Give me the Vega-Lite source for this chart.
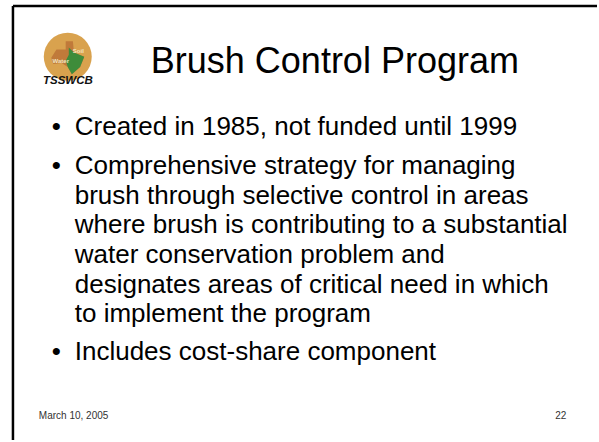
{
  "$schema": "https://vega.github.io/schema/vega-lite/v6.json",
  "width": 599,
  "height": 442,
  "autosize": {"type": "fit", "contains": "padding"},
  "padding": 0,
  "background": "white",
  "config": {"view": {"stroke": null}, "axis": {"disable": true}},
  "datasets": {
    "frame": [
      {"x": 0.217, "y": 0.102, "x2": 10.0, "y2": 0.102},
      {"x": 0.217, "y": 0.102, "x2": 0.217, "y2": 7.5}
    ],
    "title": [{"text": "Brush Control Program", "x": 5.609, "y": 1.239}],
    "bullets": [
      {"x": 0.868, "y": 2.308},
      {"x": 0.868, "y": 2.970},
      {"x": 0.868, "y": 6.143}
    ],
    "body": [
      {"text": "Created in 1985, not funded until 1999", "x": 1.252, "y": 2.308},
      {"text": "Comprehensive strategy for managing", "x": 1.252, "y": 2.970},
      {"text": "brush through selective control in areas", "x": 1.252, "y": 3.479},
      {"text": "where brush is contributing to a substantial", "x": 1.252, "y": 3.971},
      {"text": "water conservation problem and", "x": 1.252, "y": 4.480},
      {"text": "designates areas of critical need in which", "x": 1.252, "y": 4.989},
      {"text": "to implement the program", "x": 1.252, "y": 5.481},
      {"text": "Includes cost-share component", "x": 1.252, "y": 6.143}
    ],
    "footer": [
      {"text": "March 10, 2005", "x": 0.651, "y": 7.144},
      {"text": "22", "x": 9.299, "y": 7.144}
    ],
    "logo": [{"x": 1.135, "y": 0.967}],
    "logoText": [{"text": "TSSWCB", "x": 0.72, "y": 1.43}],
    "logoSmall": [
      {"text": "Soil", "x": 1.22, "y": 0.90},
      {"text": "Water", "x": 0.88, "y": 1.07}
    ]
  },
  "layer": [
    {
      "data": {"name": "frame"},
      "mark": {"type": "rule", "color": "black", "strokeWidth": 2.5},
      "encoding": {
        "x": {"field": "x", "type": "quantitative", "scale": {"domain": [0, 10], "nice": false, "zero": false}},
        "y": {"field": "y", "type": "quantitative", "scale": {"domain": [0, 7.5], "nice": false, "zero": false, "reverse": true}},
        "x2": {"field": "x2"},
        "y2": {"field": "y2"}
      }
    },
    {
      "data": {"name": "logo"},
      "mark": {"type": "point", "filled": true, "shape": "circle", "size": 2300, "color": "#D9A24E", "opacity": 1},
      "encoding": {
        "x": {"field": "x", "type": "quantitative", "scale": {"domain": [0, 10], "nice": false, "zero": false}},
        "y": {"field": "y", "type": "quantitative", "scale": {"domain": [0, 7.5], "nice": false, "zero": false, "reverse": true}}
      }
    },
    {
      "data": {"name": "logo"},
      "mark": {"type": "point", "filled": true, "shape": "M -0.55 -0.35 L -0.1 -0.35 L -0.1 -0.75 L 0.25 -0.75 L 0.3 -0.2 L 0.8 0.0 L 0.6 0.5 L 0.2 0.85 L 0.0 0.5 L -0.3 0.3 L -0.7 0.35 L -0.8 0.05 Z", "size": 1700, "color": "#C07A3A", "opacity": 1},
      "encoding": {
        "x": {"field": "x", "type": "quantitative", "scale": {"domain": [0, 10], "nice": false, "zero": false}},
        "y": {"field": "y", "type": "quantitative", "scale": {"domain": [0, 7.5], "nice": false, "zero": false, "reverse": true}}
      }
    },
    {
      "data": {"name": "logo"},
      "mark": {"type": "point", "filled": true, "shape": "M 0.05 -0.45 L 0.3 -0.2 L 0.8 0.0 L 0.6 0.5 L 0.2 0.85 L 0.0 0.5 L -0.1 0.2 L 0.05 -0.1 Z", "size": 1700, "color": "#3E8C3A", "opacity": 1},
      "encoding": {
        "x": {"field": "x", "type": "quantitative", "scale": {"domain": [0, 10], "nice": false, "zero": false}},
        "y": {"field": "y", "type": "quantitative", "scale": {"domain": [0, 7.5], "nice": false, "zero": false, "reverse": true}}
      }
    },
    {
      "data": {"name": "logoSmall"},
      "mark": {"type": "text", "align": "left", "baseline": "alphabetic", "font": "Liberation Sans", "fontSize": 6, "fontWeight": "bold", "color": "#F3E7C0"},
      "encoding": {
        "x": {"field": "x", "type": "quantitative", "scale": {"domain": [0, 10], "nice": false, "zero": false}},
        "y": {"field": "y", "type": "quantitative", "scale": {"domain": [0, 7.5], "nice": false, "zero": false, "reverse": true}},
        "text": {"field": "text"}
      }
    },
    {
      "data": {"name": "logoText"},
      "mark": {"type": "text", "align": "left", "baseline": "alphabetic", "font": "Liberation Sans", "fontSize": 11.5, "fontWeight": "bold", "fontStyle": "italic", "color": "#111111"},
      "encoding": {
        "x": {"field": "x", "type": "quantitative", "scale": {"domain": [0, 10], "nice": false, "zero": false}},
        "y": {"field": "y", "type": "quantitative", "scale": {"domain": [0, 7.5], "nice": false, "zero": false, "reverse": true}},
        "text": {"field": "text"}
      }
    },
    {
      "data": {"name": "title"},
      "mark": {"type": "text", "align": "center", "baseline": "alphabetic", "font": "Liberation Sans", "fontSize": 36, "color": "black"},
      "encoding": {
        "x": {"field": "x", "type": "quantitative", "scale": {"domain": [0, 10], "nice": false, "zero": false}},
        "y": {"field": "y", "type": "quantitative", "scale": {"domain": [0, 7.5], "nice": false, "zero": false, "reverse": true}},
        "text": {"field": "text"}
      }
    },
    {
      "data": {"name": "bullets"},
      "mark": {"type": "text", "align": "left", "baseline": "alphabetic", "font": "Liberation Sans", "fontSize": 26, "color": "black", "text": "•"},
      "encoding": {
        "x": {"field": "x", "type": "quantitative", "scale": {"domain": [0, 10], "nice": false, "zero": false}},
        "y": {"field": "y", "type": "quantitative", "scale": {"domain": [0, 7.5], "nice": false, "zero": false, "reverse": true}}
      }
    },
    {
      "data": {"name": "body"},
      "mark": {"type": "text", "align": "left", "baseline": "alphabetic", "font": "Liberation Sans", "fontSize": 26, "color": "black"},
      "encoding": {
        "x": {"field": "x", "type": "quantitative", "scale": {"domain": [0, 10], "nice": false, "zero": false}},
        "y": {"field": "y", "type": "quantitative", "scale": {"domain": [0, 7.5], "nice": false, "zero": false, "reverse": true}},
        "text": {"field": "text"}
      }
    },
    {
      "data": {"name": "footer"},
      "mark": {"type": "text", "align": "left", "baseline": "alphabetic", "font": "Liberation Sans", "fontSize": 10, "color": "#333333"},
      "encoding": {
        "x": {"field": "x", "type": "quantitative", "scale": {"domain": [0, 10], "nice": false, "zero": false}},
        "y": {"field": "y", "type": "quantitative", "scale": {"domain": [0, 7.5], "nice": false, "zero": false, "reverse": true}},
        "text": {"field": "text"}
      }
    }
  ]
}
